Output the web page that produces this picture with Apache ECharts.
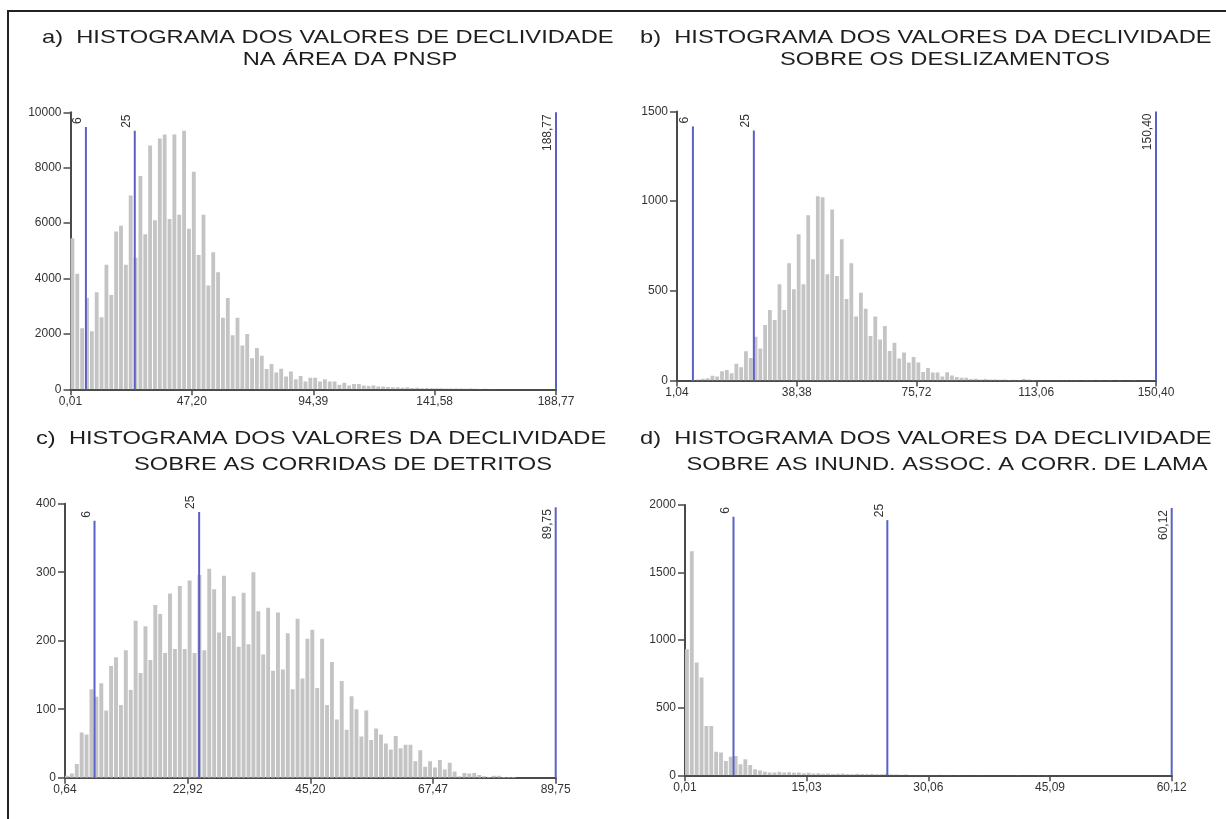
<!DOCTYPE html>
<html><head><meta charset="utf-8">
<script src="https://cdn.jsdelivr.net/npm/echarts@6/dist/echarts.min.js"></script>
<style>html,body{margin:0;padding:0;background:#fff}#c{width:1226px;height:819px}</style>
</head><body><div id="c"></div>
<script>
// ---- Panel a: slope over whole area ----
const rangeA = [0.01, 188.77];
const countsA = [5450,4170,2200,3300,2100,3500,2600,4500,3400,5700,5900,4500,7000,4750,7700,5600,8800,6100,9050,9200,
 6150,9200,6300,9330,5800,7850,4850,6300,3750,4950,4230,2580,3300,1950,2580,1580,2000,1120,1490,1210,
 730,910,610,740,460,640,360,480,280,420,420,280,360,280,280,160,240,140,190,190,
 140,120,140,100,100,80,70,70,60,70,50,60,40,50,40,35,40,30,30,25,
 30,20,25,20,15,20,10,8,5,0,0,0,0,0,0,0,0,0,0,0];
const xTicksA = ['0,01','47,20','94,39','141,58','188,77'];
const yTicksA = [0,2000,4000,6000,8000,10000];
const marksA = [6, 25, 188.77];
const markLabelsA = ['6','25','188,77'];
const markTopsA = [9470, 9330, 10000];

// ---- Panel b: landslides ----
const rangeB = [1.04, 150.40];
const countsB = [0,0,0,3,5,10,13,26,22,52,59,40,93,74,163,126,244,178,309,393,
 337,537,393,654,509,815,537,922,676,1028,1022,593,954,583,787,455,654,357,489,400,
 248,357,228,304,165,211,122,156,100,131,100,48,70,44,44,22,46,28,20,15,
 15,8,10,6,8,5,6,4,5,3,4,3,8,6,3,2,2,1,2,1,
 1,2,1,1,0,1,1,0,1,0,1,0,1,0,0,1,0,0,0,0];
const xTicksB = ['1,04','38,38','75,72','113,06','150,40'];
const yTicksB = [0,500,1000,1500];
const marksB = [6, 25, 150.40];
const markLabelsB = ['6','25','150,40'];
const markTopsB = [1417, 1394, 1500];

// ---- Panel c: debris flows ----
const rangeC = [0.64, 89.75];
const countsC = [3,6,20,66,63,129,118,138,98,163,176,106,186,128,229,153,221,172,252,239,
 182,269,188,280,188,288,182,296,186,305,275,212,295,207,265,191,270,195,300,243,
 180,248,156,241,158,211,129,232,145,203,216,131,203,106,169,85,141,70,119,100,
 60,98,55,72,63,50,41,61,43,48,48,24,40,16,24,15,26,12,22,9,
 2,7,6,7,4,2,1,3,3,1,1,1,0,0,0,0,0,0,0,0];
const xTicksC = ['0,64','22,92','45,20','67,47','89,75'];
const yTicksC = [0,100,200,300,400];
const marksC = [6, 25, 89.75];
const markLabelsC = ['6','25','89,75'];
const markTopsC = [375, 388, 395];

// ---- Panel d: mud-flow floods ----
const rangeD = [0.01, 60.12];
const countsD = [933,1657,835,723,365,365,175,168,106,138,143,81,118,77,44,35,27,20,20,27,
 20,22,18,20,15,18,14,15,12,14,10,12,14,10,8,12,10,8,10,7,
 8,12,6,5,4,6,3,3,2,2,3,2,4,2,2,1,2,1,1,1,
 2,1,1,1,1,1,1,1,2,1,1,1,2,1,2,1,0,1,0,0,
 0,0,0,0,0,0,0,0,0,0,0,0,0,0,0,0,0,0,0,0];
const xTicksD = ['0,01','15,03','30,06','45,09','60,12'];
const yTicksD = [0,500,1000,1500,2000];
const marksD = [6, 25, 60.12];
const markLabelsD = ['6','25','60,12'];
const markTopsD = [1913, 1888, 1978];

const titles = [
  ['a)  HISTOGRAMA DOS VALORES DE DECLIVIDADE', 'NA ÁREA DA PNSP'],
  ['b)  HISTOGRAMA DOS VALORES DA DECLIVIDADE', 'SOBRE OS DESLIZAMENTOS'],
  ['c)  HISTOGRAMA DOS VALORES DA DECLIVIDADE', 'SOBRE AS CORRIDAS DE DETRITOS'],
  ['d)  HISTOGRAMA DOS VALORES DA DECLIVIDADE', 'SOBRE AS INUND. ASSOC. A CORR. DE LAMA']
];

const panels = [
  {range: rangeA, counts: countsA, xt: xTicksA, yt: yTicksA, marks: marksA, ml: markLabelsA, mt: markTopsA,
   grid: {left: 70.5, top: 112.3, width: 485.5, height: 277},
   t: {x1: 42, y1: 37.5, x2: 350, y2: 59.5}},
  {range: rangeB, counts: countsB, xt: xTicksB, yt: yTicksB, marks: marksB, ml: markLabelsB, mt: markTopsB,
   grid: {left: 677, top: 111.5, width: 479, height: 269},
   t: {x1: 640, y1: 37.5, x2: 945, y2: 59.5}},
  {range: rangeC, counts: countsC, xt: xTicksC, yt: yTicksC, marks: marksC, ml: markLabelsC, mt: markTopsC,
   grid: {left: 65, top: 503.7, width: 490.7, height: 274},
   t: {x1: 36, y1: 438.5, x2: 343, y2: 464.5}},
  {range: rangeD, counts: countsD, xt: xTicksD, yt: yTicksD, marks: marksD, ml: markLabelsD, mt: markTopsD,
   grid: {left: 685, top: 505, width: 486.7, height: 270.3},
   t: {x1: 640, y1: 438.5, x2: 947, y2: 464.5}}
];

const parseNum = s => parseFloat(String(s).replace(',', '.'));
const AXIS = '#4a4a4a', TXT = '#333', BAR = '#c4c4c4', BLUE = '#5a60c6';
const FONT = "'Liberation Sans', Arial, sans-serif";

const option = {
  animation: false,
  backgroundColor: '#fff',
  grid: [], xAxis: [], yAxis: [], series: [], graphic: []
};

panels.forEach((p, k) => {
  const [mn, mx] = p.range;
  const binW = (mx - mn) / p.counts.length;
  const tickVals = p.xt.map(parseNum);
  const yMax = p.yt[p.yt.length - 1];
  option.grid.push(Object.assign({containLabel: false}, p.grid));
  option.xAxis.push({
    type: 'value', gridIndex: k, min: mn, max: mx,
    axisLine: {show: true, onZero: false, lineStyle: {color: AXIS, width: 2}},
    axisTick: {show: true, length: 6, customValues: tickVals, lineStyle: {color: AXIS, width: 1.5}},
    axisLabel: {show: true, customValues: tickVals, color: TXT, fontSize: 12, fontFamily: FONT, margin: 6,
      showMinLabel: true, showMaxLabel: true,
      formatter: v => { const i = tickVals.findIndex(t => Math.abs(t - v) < 1e-6); return i >= 0 ? p.xt[i] : ''; }},
    splitLine: {show: false}
  });
  option.yAxis.push({
    type: 'value', gridIndex: k, min: 0, max: yMax, interval: p.yt[1] - p.yt[0],
    axisLine: {show: true, lineStyle: {color: AXIS, width: 2}},
    axisTick: {show: true, length: 7, lineStyle: {color: AXIS, width: 1.5}},
    axisLabel: {color: TXT, fontSize: 12, fontFamily: FONT, margin: 9, formatter: v => String(v)},
    splitLine: {show: false}
  });
  const barData = p.counts.map((c, i) => [mn + i * binW, c]);
  option.series.push({
    type: 'custom', xAxisIndex: k, yAxisIndex: k, data: barData, clip: true,
    encode: {x: 0, y: 1},
    renderItem: (params, api) => {
      const x0 = api.value(0), v = api.value(1);
      if (!v) return null;
      const a = api.coord([x0, 0]);
      const b = api.coord([x0 + binW, v]);
      return {type: 'rect', shape: {x: a[0], y: b[1], width: Math.max(0.5, b[0] - a[0] - 1), height: a[1] - b[1]},
        style: {fill: BAR}};
    }
  });
  const markData = p.marks.map((m, i) => [m, p.mt[i], i]);
  option.series.push({
    type: 'custom', xAxisIndex: k, yAxisIndex: k, data: markData, clip: false, z: 5,
    encode: {x: 0, y: 1},
    renderItem: (params, api) => {
      const x = api.value(0), top = api.value(1), i = api.value(2);
      const a = api.coord([x, 0]);
      const b = api.coord([x, top]);
      const isMax = i === 2;
      return {type: 'group', children: [
        {type: 'line', shape: {x1: a[0], y1: a[1], x2: b[0], y2: b[1]}, style: {stroke: BLUE, lineWidth: 2}},
        {type: 'text', x: b[0] - 2, y: isMax ? b[1] + 2 : b[1] - 3, rotation: Math.PI / 2,
          style: {text: p.ml[i], fill: TXT, fontSize: 12, fontFamily: FONT,
            align: isMax ? 'right' : 'left', verticalAlign: 'bottom'}}
      ]};
    }
  });
  option.graphic.push({type: 'text', x: p.t.x1, y: p.t.y1, scaleX: 1.28,
    style: {text: titles[k][0], fill: '#1e1e1e', fontSize: 18.5, fontFamily: FONT, align: 'left', verticalAlign: 'middle'}});
  option.graphic.push({type: 'text', x: p.t.x2, y: p.t.y2, scaleX: 1.28,
    style: {text: titles[k][1], fill: '#1e1e1e', fontSize: 18.5, fontFamily: FONT, align: 'center', verticalAlign: 'middle'}});
});

option.graphic.push({type: 'rect', shape: {x: 8, y: 11, width: 1260, height: 840},
  style: {fill: 'none', stroke: '#222', lineWidth: 2}, z: 10});

const chart = echarts.init(document.getElementById('c'), null, {renderer: 'canvas'});
chart.setOption(option);
</script>
</body></html>
